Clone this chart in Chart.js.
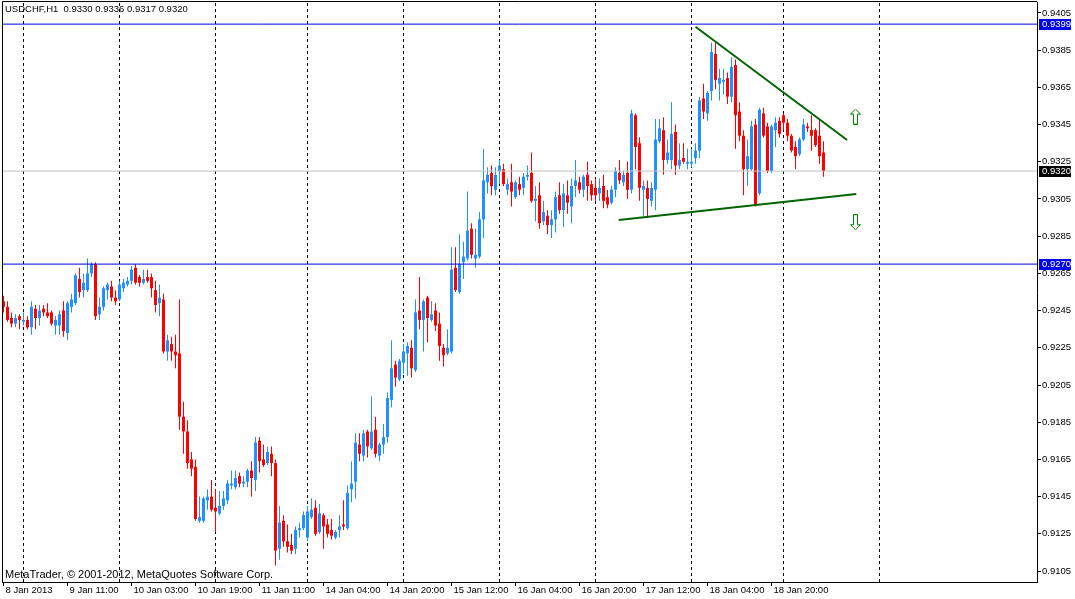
<!DOCTYPE html>
<html>
<head>
<meta charset="utf-8">
<script src="https://cdn.jsdelivr.net/npm/chart.js@4.4.1/dist/chart.umd.min.js"></script>
<style>
  html, body { margin: 0; padding: 0; background: #fff; }
  canvas { display: block; }
</style>
</head>
<body>
<canvas id="chart" width="1075" height="599"></canvas>
<script>
// ── Data: USDCHF H1, one entry per bar (8 Jan 2013 19:00 onwards) ──
const openPrices = [
  0.9250,0.9247,0.9241,0.9238,0.9242,0.9239,0.9240,0.9236,0.9246,0.9241,
  0.9246,0.9244,0.9244,0.9237,0.9237,0.9245,0.9233,0.9247,0.9249,0.9262,
  0.9256,0.9256,0.9265,0.9270,0.9243,0.9247,0.9256,0.9258,0.9252,0.9251,
  0.9257,0.9259,0.9261,0.9268,0.9263,0.9260,0.9263,0.9263,0.9256,0.9249,
  0.9251,0.9223,0.9227,0.9223,0.9222,0.9188,0.9180,0.9165,0.9161,0.9132,
  0.9132,0.9143,0.9145,0.9139,0.9136,0.9140,0.9143,0.9151,0.9150,0.9156,
  0.9152,0.9153,0.9159,0.9154,0.9175,0.9165,0.9163,0.9168,0.9163,0.9117,
  0.9132,0.9121,0.9119,0.9117,0.9127,0.9128,0.9123,0.9134,0.9139,0.9126,
  0.9135,0.9130,0.9127,0.9123,0.9127,0.9130,0.9128,0.9149,0.9153,0.9173,
  0.9167,0.9180,0.9171,0.9181,0.9167,0.9173,0.9177,0.9197,0.9216,0.9208,
  0.9217,0.9222,0.9225,0.9213,0.9245,0.9240,0.9252,0.9240,0.9245,0.9238,
  0.9225,0.9222,0.9223,0.9268,0.9255,0.9271,0.9273,0.9289,0.9273,0.9274,
  0.9294,0.9314,0.9319,0.9310,0.9320,0.9321,0.9310,0.9314,0.9306,0.9313,
  0.9311,0.9317,0.9319,0.9304,0.9307,0.9293,0.9296,0.9291,0.9294,0.9307,
  0.9299,0.9307,0.9301,0.9312,0.9314,0.9310,0.9318,0.9313,0.9311,0.9308,
  0.9312,0.9306,0.9303,0.9310,0.9319,0.9314,0.9319,0.9310,0.9350,0.9335,
  0.9310,0.9311,0.9304,0.9310,0.9336,0.9342,0.9326,0.9326,0.9341,0.9323,
  0.9327,0.9324,0.9324,0.9327,0.9331,0.9359,0.9351,0.9363,0.9383,0.9367,
  0.9368,0.9370,0.9360,0.9377,0.9352,0.9339,0.9321,0.9321,0.9345,0.9308,
  0.9351,0.9344,0.9320,0.9342,0.9347,0.9350,0.9346,0.9339,0.9333,0.9329,
  0.9337,0.9344,0.9342,0.9342,0.9339,0.9330
];
const highPrices = [
  0.9253,0.9250,0.9244,0.9243,0.9243,0.9244,0.9242,0.9250,0.9248,0.9248,
  0.9248,0.9249,0.9245,0.9242,0.9245,0.9250,0.9250,0.9254,0.9265,0.9268,
  0.9265,0.9273,0.9271,0.9271,0.9252,0.9258,0.9260,0.9261,0.9256,0.9261,
  0.9262,0.9263,0.9269,0.9270,0.9264,0.9267,0.9267,0.9265,0.9261,0.9259,
  0.9254,0.9232,0.9231,0.9232,0.9251,0.9196,0.9186,0.9169,0.9165,0.9145,
  0.9145,0.9149,0.9154,0.9149,0.9148,0.9148,0.9154,0.9159,0.9159,0.9158,
  0.9156,0.9160,0.9164,0.9177,0.9177,0.9173,0.9172,0.9172,0.9165,0.9140,
  0.9135,0.9130,0.9125,0.9129,0.9131,0.9137,0.9140,0.9144,0.9143,0.9141,
  0.9136,0.9133,0.9133,0.9127,0.9135,0.9143,0.9151,0.9164,0.9179,0.9179,
  0.9181,0.9181,0.9199,0.9188,0.9174,0.9184,0.9201,0.9229,0.9218,0.9219,
  0.9227,0.9228,0.9229,0.9251,0.9263,0.9251,0.9253,0.9250,0.9249,0.9244,
  0.9227,0.9235,0.9279,0.9279,0.9286,0.9282,0.9309,0.9292,0.9289,0.9298,
  0.9332,0.9322,0.9323,0.9322,0.9326,0.9324,0.9316,0.9324,0.9315,0.9317,
  0.9319,0.9323,0.9330,0.9312,0.9314,0.9304,0.9299,0.9299,0.9309,0.9314,
  0.9313,0.9315,0.9316,0.9326,0.9317,0.9318,0.9325,0.9315,0.9316,0.9316,
  0.9318,0.9310,0.9312,0.9322,0.9326,0.9320,0.9325,0.9353,0.9351,0.9338,
  0.9315,0.9315,0.9314,0.9348,0.9348,0.9349,0.9337,0.9357,0.9345,0.9335,
  0.9335,0.9332,0.9332,0.9335,0.9360,0.9367,0.9363,0.9389,0.9389,0.9375,
  0.9375,0.9373,0.9381,0.9380,0.9357,0.9342,0.9337,0.9347,0.9348,0.9354,
  0.9354,0.9346,0.9345,0.9349,0.9349,0.9351,0.9348,0.9340,0.9336,0.9338,
  0.9348,0.9346,0.9350,0.9343,0.9348,0.9336
];
const lowPrices = [
  0.9244,0.9239,0.9236,0.9236,0.9235,0.9237,0.9235,0.9232,0.9235,0.9237,
  0.9242,0.9241,0.9237,0.9232,0.9232,0.9231,0.9229,0.9244,0.9248,0.9252,
  0.9252,0.9255,0.9263,0.9240,0.9240,0.9245,0.9251,0.9250,0.9248,0.9250,
  0.9255,0.9258,0.9259,0.9259,0.9258,0.9259,0.9260,0.9252,0.9244,0.9242,
  0.9222,0.9218,0.9218,0.9214,0.9181,0.9168,0.9160,0.9156,0.9132,0.9131,
  0.9131,0.9138,0.9137,0.9126,0.9135,0.9138,0.9141,0.9149,0.9149,0.9150,
  0.9150,0.9150,0.9145,0.9148,0.9158,0.9161,0.9162,0.9156,0.9108,0.9111,
  0.9118,0.9115,0.9114,0.9114,0.9123,0.9127,0.9121,0.9133,0.9124,0.9125,
  0.9117,0.9123,0.9122,0.9122,0.9123,0.9127,0.9127,0.9142,0.9144,0.9164,
  0.9164,0.9166,0.9170,0.9166,0.9164,0.9168,0.9174,0.9193,0.9204,0.9207,
  0.9211,0.9210,0.9209,0.9212,0.9235,0.9223,0.9228,0.9239,0.9234,0.9218,
  0.9215,0.9221,0.9222,0.9255,0.9254,0.9262,0.9272,0.9273,0.9268,0.9273,
  0.9284,0.9308,0.9307,0.9307,0.9313,0.9312,0.9307,0.9301,0.9305,0.9307,
  0.9307,0.9315,0.9303,0.9293,0.9289,0.9291,0.9286,0.9284,0.9287,0.9297,
  0.9290,0.9297,0.9292,0.9306,0.9308,0.9306,0.9304,0.9304,0.9304,0.9304,
  0.9300,0.9300,0.9302,0.9306,0.9313,0.9312,0.9305,0.9308,0.9321,0.9304,
  0.9296,0.9295,0.9301,0.9299,0.9335,0.9318,0.9324,0.9321,0.9318,0.9321,
  0.9324,0.9321,0.9322,0.9324,0.9327,0.9348,0.9347,0.9358,0.9364,0.9358,
  0.9361,0.9356,0.9357,0.9332,0.9336,0.9307,0.9312,0.9320,0.9301,0.9307,
  0.9338,0.9319,0.9319,0.9333,0.9338,0.9342,0.9336,0.9330,0.9321,0.9328,
  0.9336,0.9341,0.9331,0.9333,0.9324,0.9317
];
const closePrices = [
  0.9247,0.9240,0.9238,0.9241,0.9240,0.9240,0.9236,0.9247,0.9241,0.9245,
  0.9244,0.9242,0.9238,0.9240,0.9243,0.9234,0.9249,0.9251,0.9264,0.9255,
  0.9260,0.9265,0.9270,0.9242,0.9247,0.9257,0.9259,0.9252,0.9250,0.9259,
  0.9260,0.9261,0.9267,0.9260,0.9260,0.9262,0.9261,0.9257,0.9248,0.9252,
  0.9223,0.9229,0.9223,0.9221,0.9188,0.9180,0.9163,0.9160,0.9133,0.9134,
  0.9144,0.9145,0.9138,0.9137,0.9140,0.9144,0.9152,0.9152,0.9155,0.9152,
  0.9153,0.9159,0.9155,0.9174,0.9164,0.9162,0.9169,0.9163,0.9116,0.9131,
  0.9121,0.9118,0.9116,0.9127,0.9128,0.9135,0.9137,0.9138,0.9125,0.9136,
  0.9129,0.9125,0.9124,0.9126,0.9129,0.9129,0.9147,0.9152,0.9174,0.9168,
  0.9179,0.9172,0.9180,0.9168,0.9173,0.9177,0.9198,0.9214,0.9209,0.9218,
  0.9223,0.9226,0.9214,0.9244,0.9240,0.9250,0.9241,0.9243,0.9237,0.9226,
  0.9221,0.9225,0.9267,0.9256,0.9270,0.9274,0.9288,0.9275,0.9275,0.9294,
  0.9315,0.9318,0.9312,0.9318,0.9323,0.9313,0.9313,0.9309,0.9314,0.9310,
  0.9317,0.9318,0.9304,0.9305,0.9292,0.9298,0.9291,0.9294,0.9306,0.9299,
  0.9308,0.9303,0.9312,0.9315,0.9310,0.9317,0.9312,0.9307,0.9307,0.9311,
  0.9304,0.9302,0.9310,0.9320,0.9315,0.9318,0.9310,0.9351,0.9333,0.9311,
  0.9312,0.9305,0.9311,0.9337,0.9343,0.9326,0.9330,0.9340,0.9323,0.9326,
  0.9325,0.9325,0.9325,0.9331,0.9358,0.9352,0.9362,0.9384,0.9369,0.9370,
  0.9369,0.9360,0.9376,0.9350,0.9339,0.9321,0.9328,0.9344,0.9302,0.9353,
  0.9339,0.9320,0.9344,0.9346,0.9340,0.9346,0.9339,0.9331,0.9328,0.9337,
  0.9345,0.9343,0.9339,0.9334,0.9328,0.9320
];

const priceTicks = [
  0.9405, 0.9385, 0.9365, 0.9345, 0.9325, 0.9305, 0.9285, 0.9265,
  0.9245, 0.9225, 0.9205, 0.9185, 0.9165, 0.9145, 0.9125, 0.9105
];
const timeTickBars = [0, 16, 32, 48, 64, 80, 96, 112, 128, 144, 160, 176, 192];
const timeTickText = [
  "8 Jan 2013", "9 Jan 11:00", "10 Jan 03:00", "10 Jan 19:00", "11 Jan 11:00",
  "14 Jan 04:00", "14 Jan 20:00", "15 Jan 12:00", "16 Jan 04:00", "16 Jan 20:00",
  "17 Jan 12:00", "18 Jan 04:00", "18 Jan 20:00"
];
const daySeparatorBars = [5, 29, 53, 76, 100, 124, 148, 172, 195, 219];

// user objects drawn on the chart (bar index, price)
const upperTrend = [{ x: 173, y: 0.93976 }, { x: 210.9, y: 0.93367 }];
const lowerTrend = [{ x: 153.8, y: 0.92937 }, { x: 213.2, y: 0.93077 }];
const levelLines = [0.9399, 0.9270];
const bidPrice = 0.9320;
const arrowUpAt = [{ x: 213, y: 0.93493 }];
const arrowDownAt = [{ x: 213, y: 0.92925 }];

// ── Look ────────────────────────────────────────────────
const FONT = '"Liberation Sans", Arial, sans-serif';
const BULL = "#1E90FF";
const BEAR = "#FF0000";
const LEVEL = "#0000E0";
const X_MIN = -0.375, X_MAX = 258.375;   // 4 px per bar
const Y_MIN = 0.90991, Y_MAX = 0.94109;  // 18600 px per 1.0

Chart.defaults.font.family = FONT;
Chart.defaults.color = "#000";

const last = closePrices.length - 1;
const titleText = "USDCHF,H1  " + [openPrices[last], highPrices[last], lowPrices[last], closePrices[last]]
  .map((v) => v.toFixed(4)).join(" ");
const copyrightText = "MetaTrader, \u00A9 2001-2012, MetaQuotes Software Corp.";

const candleColor = closePrices.map((c, i) => (c >= openPrices[i] ? BULL : BEAR));
const wicks = closePrices.map((_, i) => ({ x: i, y: [lowPrices[i], highPrices[i]] }));
const bodies = closePrices.map((c, i) => ({ x: i, y: [openPrices[i], c] }));

const spanLine = (level) => [{ x: X_MIN, y: level }, { x: X_MAX, y: level }];

const separatorData = [];
daySeparatorBars.forEach((b) => {
  separatorData.push({ x: b, y: Y_MIN }, { x: b, y: Y_MAX }, { x: b, y: null });
});

function arrowImage(up) {
  const c = document.createElement("canvas");
  c.width = 11;
  c.height = 16;
  const g = c.getContext("2d");
  const pts = [[5.5, 0.5], [10.5, 5.5], [7.5, 5.5], [7.5, 15.5], [3.5, 15.5], [3.5, 5.5], [0.5, 5.5]];
  g.beginPath();
  pts.forEach(([px, py], k) => {
    const yy = up ? py : 16 - py;
    if (k) g.lineTo(px, yy); else g.moveTo(px, yy);
  });
  g.closePath();
  g.fillStyle = "#fff";
  g.fill();
  g.strokeStyle = "#008000";
  g.lineWidth = 1;
  g.stroke();
  return c;
}

// keep the plot box fixed: no extra room for overhanging tick labels
function noLabelPadding(s) {
  s.paddingLeft = 0;
  s.paddingRight = 0;
  s.paddingTop = 0;
  s.paddingBottom = 0;
}

// frame, header text, copyright and price tags on the axis
const overlay = {
  id: "overlay",
  afterDraw(chart) {
    const { ctx, chartArea: a } = chart;
    const y = chart.scales.y;
    ctx.save();
    ctx.strokeStyle = "#000";
    ctx.lineWidth = 1;
    ctx.beginPath();
    ctx.moveTo(a.left + 0.5, a.bottom);
    ctx.lineTo(a.left + 0.5, a.top - 0.5);
    ctx.lineTo(a.right, a.top - 0.5);
    ctx.stroke();

    ctx.fillStyle = "#000";
    ctx.textAlign = "left";
    ctx.textBaseline = "alphabetic";
    ctx.font = `9.5px ${FONT}`;
    ctx.fillText(titleText, 5, 12);
    ctx.font = `11px ${FONT}`;
    ctx.fillText(copyrightText, 5, 578);

    const tags = [[levelLines[0], "#0000F0"], [bidPrice, "#000"], [levelLines[1], "#0000F0"]];
    tags.forEach(([price, bg]) => {
      const py = Math.round(y.getPixelForValue(price));
      ctx.fillStyle = bg;
      ctx.fillRect(a.right + 2, py - 5, 32, 11);
      ctx.fillStyle = "#fff";
      ctx.font = `9.5px ${FONT}`;
      ctx.textBaseline = "middle";
      ctx.fillText(price.toFixed(4), a.right + 5, py + 0.5);
    });
    ctx.restore();
  },
};

new Chart(document.getElementById("chart"), {
  type: "bar",
  data: {
    datasets: [
      {
        type: "line",
        data: separatorData,
        borderColor: "#000",
        borderWidth: 1,
        borderDash: [3, 3],
        pointRadius: 0,
        spanGaps: false,
        order: 10,
      },
      {
        data: wicks,
        backgroundColor: candleColor,
        barThickness: 1,
        grouped: false,
        inflateAmount: 0,
        borderWidth: 0,
        order: 6,
      },
      {
        data: bodies,
        backgroundColor: candleColor,
        barThickness: 3,
        minBarLength: 1,
        grouped: false,
        inflateAmount: 0,
        borderWidth: 0,
        order: 5,
      },
      {
        type: "line",
        data: spanLine(bidPrice),
        borderColor: "#C0C0C0",
        borderWidth: 1,
        pointRadius: 0,
        order: 4,
      },
      ...levelLines.map((lv) => ({
        type: "line",
        data: spanLine(lv),
        borderColor: LEVEL,
        borderWidth: 1,
        pointRadius: 0,
        order: 3,
      })),
      ...[upperTrend, lowerTrend].map((pts) => ({
        type: "line",
        data: pts,
        borderColor: "#006400",
        borderWidth: 2,
        pointRadius: 0,
        order: 2,
      })),
      {
        type: "line",
        data: arrowUpAt,
        showLine: false,
        pointStyle: arrowImage(true),
        pointRadius: 6,
        order: 1,
      },
      {
        type: "line",
        data: arrowDownAt,
        showLine: false,
        pointStyle: arrowImage(false),
        pointRadius: 6,
        order: 1,
      },
    ],
  },
  options: {
    responsive: false,
    animation: false,
    devicePixelRatio: 1,
    events: [],
    layout: { autoPadding: false, padding: { left: 2, top: 2, right: 0, bottom: 0 } },
    plugins: { legend: { display: false }, tooltip: { enabled: false } },
    scales: {
      x: {
        type: "linear",
        min: X_MIN,
        max: X_MAX,
        offset: false,
        afterBuildTicks: (s) => { s.ticks = timeTickBars.map((v) => ({ value: v })); },
        afterFit: (s) => { s.height = 17; noLabelPadding(s); },
        ticks: {
          autoSkip: false,
          maxRotation: 0,
          minRotation: 0,
          align: "start",
          labelOffset: 2,
          padding: -1,
          font: { size: 9.5 },
          color: "#000",
          callback: (v) => timeTickText[timeTickBars.indexOf(v)],
        },
        grid: { drawOnChartArea: false, tickLength: 4, color: "#000", offset: false },
        border: { display: true, color: "#000", width: 1 },
      },
      y: {
        type: "linear",
        position: "right",
        min: Y_MIN,
        max: Y_MAX,
        beginAtZero: false,
        afterBuildTicks: (s) => { s.ticks = priceTicks.map((v) => ({ value: v })); },
        afterFit: (s) => { s.width = 38; noLabelPadding(s); },
        ticks: {
          autoSkip: false,
          padding: 1,
          font: { size: 9.5 },
          color: "#000",
          callback: (v) => v.toFixed(4),
        },
        grid: { drawOnChartArea: false, tickLength: 4, color: "#000" },
        border: { display: true, color: "#000", width: 1 },
      },
    },
  },
  plugins: [overlay],
});
</script>
</body>
</html>
